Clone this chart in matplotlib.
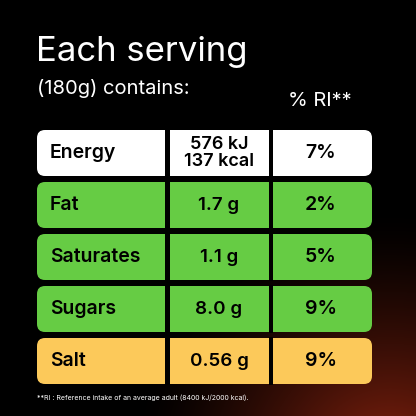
import matplotlib
matplotlib.use("Agg")
import matplotlib.pyplot as plt
import numpy as np
from matplotlib.patches import FancyBboxPatch, Rectangle

plt.rcParams['font.family'] = ['Inter', 'DejaVu Sans']

nutrients = ["Energy", "Fat", "Saturates", "Sugars", "Salt"]
amounts = ["576 kJ\n137 kcal", "1.7 g", "1.1 g", "8.0 g", "0.56 g"]
ri = ["7%", "2%", "5%", "9%", "9%"]
colors = ["#ffffff", "#66cc44", "#66cc44", "#66cc44", "#fcc95a"]

fig = plt.figure(figsize=(4.16, 4.16), dpi=100)
ax = fig.add_axes([0, 0, 1, 1])
ax.set_xlim(0, 416); ax.set_ylim(416, 0); ax.axis("off")
yy, xx = np.mgrid[0:416, 0:416]
d = np.sqrt((xx - 390) ** 2 + (yy - 470) ** 2)
g = np.clip(1 - d / 260, 0, 1) ** 1.4
img = np.zeros((416, 416, 3))
img[..., 0] = 0.55 * g
img[..., 1] = 0.14 * g
img[..., 2] = 0.06 * g
ax.imshow(img, extent=(0, 416, 416, 0), zorder=0)

ax.text(36, 52, "Each serving", color="white", fontsize=25, va="center")
ax.text(37, 88, "(180g) contains:", color="white", fontsize=14.5, va="center")
ax.text(320, 101, "% RI**", color="white", fontsize=14.5, va="center", ha="center")

top0, h, pitch = 130, 46, 52
for i, (n, a, r, c) in enumerate(zip(nutrients, amounts, ri, colors)):
    y = top0 + i * pitch
    ax.add_patch(FancyBboxPatch((37 + 8, y + 8), 335 - 16, h - 16,
                                boxstyle="round,pad=8", fc=c, ec="none", zorder=2))
    for x0, x1 in [(165, 170), (269, 273)]:
        ax.add_patch(Rectangle((x0, y - 1), x1 - x0, h + 2, fc="black", ec="none", zorder=3))
    cy = y + h / 2
    ax.text(50, cy, n, fontsize=14, va="center", fontweight="semibold", zorder=4)
    ax.text(219, cy, a, fontsize=13.5 if i else 13, va="center", ha="center",
            fontweight="semibold", linespacing=0.95, zorder=4)
    ax.text(321, cy, r, fontsize=14, va="center", ha="center", fontweight="semibold", zorder=4)

ax.text(37, 398, "**RI : Reference intake of an average adult (8400 kJ/2000 kcal).",
        color="white", fontsize=5, va="center")
fig.savefig("out.png", dpi=100, facecolor="black")
